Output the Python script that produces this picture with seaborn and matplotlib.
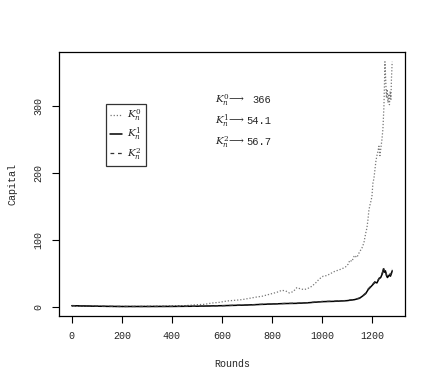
import matplotlib
matplotlib.use("Agg")
import matplotlib.pyplot as plt
import seaborn as sns
import pandas as pd

# ---- data ----
rounds_k0 = [0, 50, 100, 150, 200, 250, 300, 350, 400, 450, 500, 530, 560, 590, 620, 650, 680, 710,
             740, 760, 780, 800, 820, 840, 855, 870, 885, 900, 915, 930, 945, 960, 975, 990, 1005,
             1020, 1035, 1050, 1065, 1080, 1095, 1105, 1112, 1120, 1130, 1140, 1150, 1160, 1168,
             1175, 1180, 1184, 1188, 1192, 1196, 1200, 1204, 1208, 1212, 1216, 1220, 1224, 1228,
             1232, 1236, 1240, 1244, 1248, 1250, 1252, 1255, 1258, 1261, 1264, 1267, 1270, 1273,
             1276, 1278, 1281]
k0 = [1.5, 1.2, 1.0, 0.8, 0.8, 0.9, 1.0, 1.2, 1.5, 2.0, 3.5, 4, 6, 7, 9, 10, 11, 13,
      15, 16, 18, 20, 22, 25, 24, 21, 23, 29, 27, 26, 28, 31, 36, 42, 46,
      47, 50, 53, 55, 57, 60, 64, 70, 68, 77, 74, 82, 88, 96,
      110, 118, 130, 145, 152, 158, 165, 185, 192, 205, 218, 226, 232, 240,
      226, 238, 250, 266, 300, 330, 366, 340, 312, 325, 305, 318, 302, 322,
      310, 340, 366]

rounds_k1 = [0, 50, 100, 150, 200, 300, 400, 500, 600, 700, 750, 800, 850, 900, 950, 1000, 1050,
             1100, 1130, 1150, 1165, 1175, 1185, 1195, 1205, 1212, 1220, 1228, 1235, 1242, 1246,
             1250, 1254, 1258, 1262, 1266, 1270, 1274, 1278, 1281]
k1 = [2.0, 1.6, 1.2, 1.0, 0.8, 0.8, 0.9, 1.2, 2.0, 3.0, 3.8, 4.5, 5.2, 5.5, 6.5, 8.0, 8.5,
      9.5, 11, 13, 17, 20, 26, 30, 34, 37, 36, 42, 44, 50, 57,
      52, 54, 47, 44, 46, 48, 46, 50, 54.1]
k2 = [2.0, 1.6, 1.2, 1.0, 0.8, 0.8, 0.9, 1.2, 2.0, 3.1, 3.9, 4.6, 5.3, 5.7, 6.7, 8.2, 8.8,
      9.8, 11.5, 13.5, 17.5, 21, 27, 31, 35, 38, 37, 43, 45, 52, 59,
      54, 56, 49, 46, 48, 50, 48, 52, 56.7]

final_labels = ["366", "54.1", "56.7"]
x_ticks = [0, 200, 400, 600, 800, 1000, 1200]
y_ticks = [0, 100, 200, 300]

df0 = pd.DataFrame({"Rounds": rounds_k0, "Capital": k0})
df1 = pd.DataFrame({"Rounds": rounds_k1, "Capital": k1})
df2 = pd.DataFrame({"Rounds": rounds_k1, "Capital": k2})

sns.set_style("ticks")
plt.rcParams["font.family"] = ["Liberation Mono", "DejaVu Sans Mono"]
plt.rcParams["mathtext.fontset"] = "dejavuserif"

fig = plt.figure(figsize=(4.36, 3.82), dpi=100)
ax = fig.add_axes([59 / 436, 1 - 316 / 382, (405 - 59) / 436, (316 - 52) / 382])

sns.lineplot(data=df0, x="Rounds", y="Capital", ax=ax, color="#777777", lw=0.9,
             linestyle=(0, (1, 1.5)), label=r"$K_n^0$")
sns.lineplot(data=df1, x="Rounds", y="Capital", ax=ax, color="black", lw=1.1,
             linestyle="-", label=r"$K_n^1$")
sns.lineplot(data=df2, x="Rounds", y="Capital", ax=ax, color="#333333", lw=0.9,
             linestyle=(0, (3, 3)), label=r"$K_n^2$")

xr = (0, 1281)
yr = (1.2, 366)
dx = (xr[1] - xr[0]) * 0.04
dy = (yr[1] - yr[0]) * 0.04
ax.set_xlim(xr[0] - dx, xr[1] + dx)
ax.set_ylim(yr[0] - dy, yr[1] + dy)
ax.set_xticks(x_ticks)
ax.set_yticks(y_ticks)
ax.tick_params(axis="both", length=5, width=0.8, labelsize=7.2, color="black", pad=6)
for lab in ax.get_yticklabels():
    lab.set_rotation(90)
    lab.set_va("center")
for s in ax.spines.values():
    s.set_visible(True)
    s.set_color("black")
    s.set_linewidth(0.9)

ax.set_xlabel("Rounds", fontsize=7.2, labelpad=13)
ax.set_ylabel("Capital", fontsize=7.2, labelpad=12)

leg = ax.legend(loc="upper left", bbox_to_anchor=((106 - 59) / 346, (316 - 104) / 264),
                frameon=True, fancybox=False, edgecolor="black", fontsize=7.5,
                handlelength=1.1, handletextpad=0.5, borderpad=0.4, labelspacing=0.3,
                borderaxespad=0)
leg.get_frame().set_linewidth(0.9)

for i, lbl in enumerate(final_labels):
    ypx = 100 + 21 * i
    fig.text(215 / 436, 1 - ypx / 382, r"$K_n^{%d}\!\longrightarrow$" % i, fontsize=7.5,
             va="center", ha="left")
    xoff = 252 if i == 0 else 246
    fig.text(xoff / 436, 1 - ypx / 382, lbl, fontsize=7.5, va="center", ha="left")

fig.savefig("out.png", dpi=100)
